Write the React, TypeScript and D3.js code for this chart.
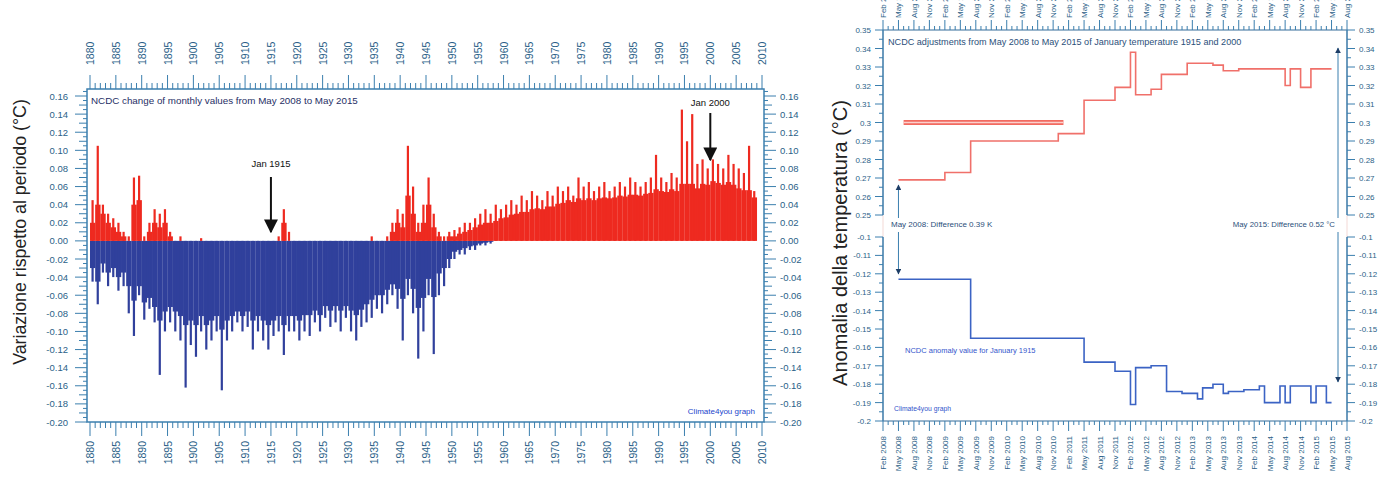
import React from "react";
import * as d3 from "d3";

// ---------- LEFT CHART DATA (monthly change, summarised per year 1880..2008) ----------
const startYear = 1880;
// highest monthly positive change in each year (spikes)
const posPeak = [
  0.045, 0.105, 0.04, 0.03, 0.025, 0.02, 0.01, 0.005, 0.07, 0.072,
  0.005, 0.02, 0.035, 0.03, 0.035, 0.01, 0, 0.005, 0, 0,
  0, 0.003, 0, 0, 0, 0, 0, 0, 0, 0,
  0, 0, 0, 0, 0, 0, 0.005, 0.035, 0.01, 0,
  0, 0, 0, 0, 0, 0, 0, 0, 0, 0,
  0, 0, 0, 0, 0.005, 0, 0, 0.005, 0.02, 0.035,
  0.03, 0.105, 0.06, 0.02, 0.04, 0.07, 0.03, 0.01, 0.005, 0.01,
  0.012, 0.015, 0.02, 0.02, 0.025, 0.03, 0.035, 0.03, 0.04, 0.035,
  0.04, 0.045, 0.04, 0.05, 0.045, 0.055, 0.05, 0.045, 0.055, 0.05,
  0.06, 0.055, 0.06, 0.05, 0.07, 0.06, 0.065, 0.055, 0.06, 0.065,
  0.055, 0.06, 0.065, 0.06, 0.07, 0.065, 0.06, 0.065, 0.07, 0.095,
  0.07, 0.065, 0.075, 0.07, 0.145, 0.11, 0.14, 0.085, 0.09, 0.08,
  0.09, 0.085, 0.08, 0.095, 0.085, 0.08, 0.075, 0.105, 0.055,
];
// typical (bulk) positive change in each year
const posTypical = [
  0.02, 0.04, 0.03, 0.02, 0.015, 0.01, 0.005, 0, 0.04, 0.045,
  0, 0.01, 0.02, 0.015, 0.02, 0.005, 0, 0, 0, 0,
  0, 0, 0, 0, 0, 0, 0, 0, 0, 0,
  0, 0, 0, 0, 0, 0, 0, 0.02, 0, 0,
  0, 0, 0, 0, 0, 0, 0, 0, 0, 0,
  0, 0, 0, 0, 0, 0, 0, 0, 0.01, 0.02,
  0.015, 0.05, 0.03, 0.01, 0.02, 0.04, 0.015, 0.005, 0, 0.005,
  0.005, 0.008, 0.01, 0.012, 0.015, 0.018, 0.02, 0.02, 0.022, 0.025,
  0.026, 0.029, 0.03, 0.032, 0.032, 0.035, 0.036, 0.035, 0.038, 0.038,
  0.041, 0.042, 0.045, 0.043, 0.047, 0.045, 0.047, 0.045, 0.047, 0.048,
  0.047, 0.048, 0.05, 0.049, 0.051, 0.051, 0.05, 0.052, 0.053, 0.057,
  0.055, 0.054, 0.057, 0.055, 0.063, 0.063, 0.063, 0.058, 0.063, 0.062,
  0.066, 0.064, 0.062, 0.065, 0.062, 0.058, 0.056, 0.056, 0.048,
];
// lowest monthly negative change in each year (spikes)
const negPeak = [
  -0.045, -0.07, -0.035, -0.05, -0.04, -0.055, -0.05, -0.08, -0.105, -0.06,
  -0.087, -0.075, -0.09, -0.148, -0.1, -0.09, -0.1, -0.11, -0.162, -0.115,
  -0.128, -0.1, -0.12, -0.11, -0.1, -0.165, -0.11, -0.1, -0.09, -0.1,
  -0.095, -0.12, -0.1, -0.11, -0.12, -0.105, -0.1, -0.126, -0.1, -0.1,
  -0.11, -0.1, -0.105, -0.09, -0.1, -0.085, -0.095, -0.09, -0.1, -0.085,
  -0.1, -0.11, -0.095, -0.09, -0.085, -0.075, -0.08, -0.07, -0.06, -0.075,
  -0.11, -0.06, -0.08, -0.13, -0.1, -0.06, -0.125, -0.06, -0.05, -0.03,
  -0.02, -0.015, -0.015, -0.01, -0.01, -0.005, -0.005, -0.003, 0, 0,
  0, 0, 0, 0, 0, 0, 0, 0, 0, 0,
  0, 0, 0, 0, 0, 0, 0, 0, 0, 0,
  0, 0, 0, 0, 0, 0, 0, 0, 0, 0,
  0, 0, 0, 0, 0, 0, 0, 0, 0, 0,
  0, 0, 0, 0, 0, 0, 0, 0, 0,
];
// typical (bulk) negative change in each year
const negTypical = [
  -0.03, -0.045, -0.025, -0.035, -0.03, -0.04, -0.035, -0.05, -0.066, -0.05,
  -0.068, -0.063, -0.073, -0.088, -0.078, -0.073, -0.078, -0.083, -0.093, -0.088,
  -0.093, -0.083, -0.093, -0.088, -0.083, -0.098, -0.088, -0.083, -0.078, -0.083,
  -0.078, -0.088, -0.083, -0.088, -0.093, -0.088, -0.083, -0.093, -0.083, -0.083,
  -0.088, -0.082, -0.082, -0.077, -0.082, -0.072, -0.077, -0.072, -0.077, -0.072,
  -0.077, -0.082, -0.076, -0.07, -0.065, -0.06, -0.06, -0.054, -0.048, -0.053,
  -0.064, -0.042, -0.053, -0.074, -0.063, -0.042, -0.062, -0.036, -0.03, -0.02,
  -0.012, -0.01, -0.008, -0.006, -0.005, -0.003, -0.002, -0.001, 0, 0,
  0, 0, 0, 0, 0, 0, 0, 0, 0, 0,
  0, 0, 0, 0, 0, 0, 0, 0, 0, 0,
  0, 0, 0, 0, 0, 0, 0, 0, 0, 0,
  0, 0, 0, 0, 0, 0, 0, 0, 0, 0,
  0, 0, 0, 0, 0, 0, 0, 0, 0,
];
const leftYTicks = [0.16, 0.14, 0.12, 0.1, 0.08, 0.06, 0.04, 0.02, 0, -0.02, -0.04, -0.06, -0.08, -0.1, -0.12, -0.14, -0.16, -0.18, -0.2];

// ---------- RIGHT CHART DATA (step series) ----------
const jan2000Dates = ["2008-05", "2009-02", "2009-07", "2010-12", "2011-05", "2011-11", "2012-02", "2012-03", "2012-06", "2012-08", "2013-01", "2013-06", "2013-08", "2013-11", "2014-08", "2014-09", "2014-11", "2015-01", "2015-05"];
const jan2000Values = [0.269, 0.273, 0.29, 0.294, 0.312, 0.319, 0.338, 0.315, 0.318, 0.326, 0.332, 0.331, 0.328, 0.329, 0.32, 0.329, 0.319, 0.329, 0.329];
const jan2000BandDates = ["2008-06", "2011-01"];
const jan2000BandValue = 0.3;

const jan1915Dates = ["2008-05", "2009-07", "2011-05", "2011-11", "2012-02", "2012-03", "2012-06", "2012-09", "2012-12", "2013-03", "2013-04", "2013-06", "2013-08", "2013-09", "2013-12", "2014-03", "2014-04", "2014-07", "2014-08", "2014-09", "2015-01", "2015-02", "2015-04", "2015-05"];
const jan1915Values = [-0.123, -0.155, -0.168, -0.173, -0.191, -0.171, -0.17, -0.184, -0.185, -0.188, -0.182, -0.18, -0.185, -0.184, -0.183, -0.181, -0.19, -0.181, -0.19, -0.181, -0.19, -0.181, -0.19, -0.19];

const upperTicks = [0.35, 0.34, 0.33, 0.32, 0.31, 0.3, 0.29, 0.28, 0.27, 0.26, 0.25];
const lowerTicks = [-0.1, -0.11, -0.12, -0.13, -0.14, -0.15, -0.16, -0.17, -0.18, -0.19, -0.2];
const monthNames = ["Feb", "May", "Aug", "Nov"];
const labelYears = [2008, 2009, 2010, 2011, 2012, 2013, 2014, 2015];

const font = "'Liberation Sans', Arial, sans-serif";
const axisColor = "#3b7fae";
const labelColor = "#2b5f88";
const red = "#ee2a20";
const blue = "#30409c";

function monthIndex(s: string) {
  const [y, m] = s.split("-").map(Number);
  return (y - 2008) * 12 + (m - 2);
}

export default function App() {
  // left chart scales
  const xL = d3.scaleLinear().domain([1880, 2010]).range([90, 762]);
  const yL = d3.scaleLinear().domain([-0.2, 0.16]).range([422, 96]);
  const fL = { x0: 87, x1: 764, y0: 89, y1: 422 };

  // right chart scales
  const xR = d3.scaleLinear().domain([0, 90]).range([883, 1347]);
  const yU = d3.scaleLinear().domain([0.25, 0.35]).range([215, 30]);
  const yD = d3.scaleLinear().domain([-0.2, -0.1]).range([421, 237]);

  const y0 = yL(0);
  const yearW = xL(1881) - xL(1880);
  const spikeW = 2.2;

  const yearTicks = d3.range(1880, 2011, 1);
  const leftMinor = d3.range(-0.2, 0.1651, 0.005).map((v) => Math.round(v * 1000) / 1000);

  const stepLine = (ys: d3.ScaleLinear<number, number>) =>
    d3
      .line<[number, number]>()
      .x((d) => xR(d[0]))
      .y((d) => ys(d[1]))
      .curve(d3.curveStepAfter);

  const upperPts: [number, number][] = jan2000Dates.map((d, i) => [monthIndex(d), jan2000Values[i]]);
  const lowerPts: [number, number][] = jan1915Dates.map((d, i) => [monthIndex(d), jan1915Values[i]]);
  const bandPts: [number, number][] = jan2000BandDates.map((d) => [monthIndex(d), jan2000BandValue]);

  const rightLabels: { m: number; t: string }[] = [];
  labelYears.forEach((yr) =>
    monthNames.forEach((mn, k) => {
      const m = (yr - 2008) * 12 + k * 3;
      if (m <= 90) rightLabels.push({ m, t: `${mn} ${yr}` });
    })
  );
  const monthTicks = d3.range(0, 91, 1);
  const upperMinor = d3.range(0.25, 0.3501, 0.005);
  const lowerMinor = d3.range(-0.2, -0.0999, 0.005);

  const fmt2 = (v: number) => v.toFixed(2);
  const fmtR = (v: number) => String(Number(v.toFixed(2)));

  return (
    <svg
      width={1388}
      height={477}
      style={{ position: "absolute", left: 0, top: 0, background: "#fff" }}
      fontFamily={font}
    >
      <defs>
        <marker id="ahBlack" viewBox="0 0 10 10" refX="9" refY="5" markerWidth="7" markerHeight="7" orient="auto">
          <path d="M0,0 L10,5 L0,10 z" fill="#111" />
        </marker>
        <marker id="ahBlue" viewBox="0 0 10 10" refX="9" refY="5" markerWidth="6" markerHeight="6" orient="auto">
          <path d="M0,0 L10,5 L0,10 z" fill="#1d3d66" />
        </marker>
      </defs>
      <rect x={0} y={0} width={1388} height={477} fill="#fff" />

      {/* ================= LEFT CHART ================= */}
      <g>
        {/* negative: bulk + spikes */}
        {negTypical.map((v, i) =>
          v < 0 ? (
            <rect key={"nt" + i} x={xL(startYear + i)} y={y0} width={yearW + 0.2} height={yL(v) - y0} fill={blue} />
          ) : null
        )}
        {negPeak.map((v, i) =>
          v < 0 ? (
            <rect
              key={"np" + i}
              x={xL(startYear + i + 0.5) - spikeW / 2}
              y={y0}
              width={spikeW}
              height={yL(v) - y0}
              fill={blue}
            />
          ) : null
        )}
        {/* positive: bulk + spikes */}
        {posTypical.map((v, i) =>
          v > 0 ? (
            <rect key={"pt" + i} x={xL(startYear + i)} y={yL(v)} width={yearW + 0.2} height={y0 - yL(v)} fill={red} />
          ) : null
        )}
        {posPeak.map((v, i) =>
          v > 0 ? (
            <rect
              key={"pp" + i}
              x={xL(startYear + i + 0.5) - spikeW / 2}
              y={yL(v)}
              width={spikeW}
              height={y0 - yL(v)}
              fill={red}
            />
          ) : null
        )}

        {/* frame */}
        <rect x={fL.x0} y={fL.y0} width={fL.x1 - fL.x0} height={fL.y1 - fL.y0} fill="none" stroke={axisColor} strokeWidth={1.5} />

        {/* y ticks left & right */}
        {leftMinor.map((v) => {
          const isMid = Math.abs(v * 100 - Math.round(v * 100)) < 1e-6;
          const isMaj = isMid && Math.abs(Math.round(v * 100)) % 2 === 0;
          const len = isMaj ? 12 : isMid ? 8 : 4;
          const y = yL(v);
          return (
            <g key={"ly" + v}>
              <line x1={fL.x0} x2={fL.x0 - len} y1={y} y2={y} stroke={axisColor} strokeWidth={1} />
              <line x1={fL.x1} x2={fL.x1 + len} y1={y} y2={y} stroke={axisColor} strokeWidth={1} />
            </g>
          );
        })}
        {leftYTicks.map((v) => (
          <g key={"lyl" + v} fontSize={9.5} fill={labelColor}>
            <text x={68} y={yL(v) + 3.5} textAnchor="end">{fmt2(v)}</text>
            <text x={780} y={yL(v) + 3.5} textAnchor="start">{fmt2(v)}</text>
          </g>
        ))}

        {/* x ticks top & bottom */}
        {yearTicks.map((yr) => {
          const x = xL(yr);
          const maj = yr % 5 === 0;
          const len = maj ? 14 : 6;
          return (
            <g key={"lx" + yr}>
              <line x1={x} x2={x} y1={fL.y0} y2={fL.y0 - len} stroke={axisColor} strokeWidth={1} />
              <line x1={x} x2={x} y1={fL.y1} y2={fL.y1 + len} stroke={axisColor} strokeWidth={1} />
              {maj ? (
                <>
                  <text transform={`translate(${x + 4},65) rotate(-90)`} textAnchor="start" fontSize={10.5} fill={labelColor}>{yr}</text>
                  <text transform={`translate(${x + 4},441) rotate(-90)`} textAnchor="end" fontSize={10.5} fill={labelColor}>{yr}</text>
                </>
              ) : null}
            </g>
          );
        })}

        {/* texts */}
        <text x={91} y={104} fontSize={9.8} fill="#1f2f66">NCDC change of monthly values from May 2008 to May 2015</text>
        <text x={755} y={414} fontSize={8} fill="#2244cc" textAnchor="end">Climate4you graph</text>

        <text x={xL(1915)} y={167} fontSize={9.5} fill="#111" textAnchor="middle">Jan 1915</text>
        <line x1={xL(1915)} x2={xL(1915)} y1={177} y2={232} stroke="#111" strokeWidth={2} markerEnd="url(#ahBlack)" />
        <text x={xL(2000)} y={106} fontSize={9.5} fill="#111" textAnchor="middle">Jan 2000</text>
        <line x1={xL(2000)} x2={xL(2000)} y1={113} y2={160} stroke="#111" strokeWidth={2} markerEnd="url(#ahBlack)" />

        <text transform={`translate(26,${232}) rotate(-90)`} textAnchor="middle" fontSize={17.8} fill="#222">
          Variazione rispetto al periodo (°C)
        </text>
      </g>

      {/* ================= RIGHT CHART ================= */}
      <g>
        {/* faint frame */}
        <rect x={883} y={30} width={464} height={391} fill="none" stroke="#f3d9d6" strokeWidth={1} />

        {/* series */}
        <path d={stepLine(yU)(bandPts) || ""} fill="none" stroke="#f26a60" strokeWidth={5} />
        <path d={stepLine(yU)(bandPts) || ""} fill="none" stroke="#fbd0cc" strokeWidth={1.5} />
        <path d={stepLine(yU)(upperPts) || ""} fill="none" stroke="#f0706a" strokeWidth={1.6} />
        <path d={stepLine(yD)(lowerPts) || ""} fill="none" stroke="#3b63c4" strokeWidth={1.6} />

        {/* axes lines */}
        <line x1={883} x2={1347} y1={30} y2={30} stroke={axisColor} strokeWidth={1.2} />
        <line x1={883} x2={1347} y1={421} y2={421} stroke={axisColor} strokeWidth={1.2} />
        <line x1={883} x2={883} y1={30} y2={215} stroke={axisColor} strokeWidth={1.5} />
        <line x1={883} x2={883} y1={237} y2={421} stroke={axisColor} strokeWidth={1.5} />
        <line x1={1347} x2={1347} y1={30} y2={215} stroke={axisColor} strokeWidth={1.5} />
        <line x1={1347} x2={1347} y1={237} y2={421} stroke={axisColor} strokeWidth={1.5} />

        {/* y minor ticks */}
        {upperMinor.map((v, i) => (
          <g key={"um" + i}>
            <line x1={883} x2={883 - (i % 2 === 0 ? 8 : 4)} y1={yU(v)} y2={yU(v)} stroke={axisColor} />
            <line x1={1347} x2={1347 + (i % 2 === 0 ? 8 : 4)} y1={yU(v)} y2={yU(v)} stroke={axisColor} />
          </g>
        ))}
        {lowerMinor.map((v, i) => (
          <g key={"lm" + i}>
            <line x1={883} x2={883 - (i % 2 === 0 ? 8 : 4)} y1={yD(v)} y2={yD(v)} stroke={axisColor} />
            <line x1={1347} x2={1347 + (i % 2 === 0 ? 8 : 4)} y1={yD(v)} y2={yD(v)} stroke={axisColor} />
          </g>
        ))}
        {upperTicks.map((v) => (
          <g key={"ut" + v} fontSize={8} fill={labelColor}>
            <text x={871} y={yU(v) + 3} textAnchor="end">{fmtR(v)}</text>
            <text x={1359} y={yU(v) + 3} textAnchor="start">{fmtR(v)}</text>
          </g>
        ))}
        {lowerTicks.map((v) => (
          <g key={"lt" + v} fontSize={8} fill={labelColor}>
            <text x={871} y={yD(v) + 3} textAnchor="end">{fmtR(v)}</text>
            <text x={1359} y={yD(v) + 3} textAnchor="start">{fmtR(v)}</text>
          </g>
        ))}

        {/* x ticks */}
        {monthTicks.map((m) => {
          const x = xR(m);
          const len = m % 3 === 0 ? 10 : 4;
          return (
            <g key={"mt" + m}>
              <line x1={x} x2={x} y1={30} y2={30 - len} stroke={axisColor} />
              <line x1={x} x2={x} y1={421} y2={421 + len} stroke={axisColor} />
            </g>
          );
        })}
        {rightLabels.map((l) => (
          <g key={"rl" + l.m} fontSize={8} fill={labelColor}>
            <text transform={`translate(${xR(l.m) + 3},18) rotate(-90)`} textAnchor="start">{l.t}</text>
            <text transform={`translate(${xR(l.m) + 3},436) rotate(-90)`} textAnchor="end">{l.t}</text>
          </g>
        ))}

        {/* annotations */}
        <text x={888} y={45} fontSize={9.1} fill="#2b4f7a">NCDC adjustments from May 2008 to May 2015 of January temperature 1915 and 2000</text>
        <text x={891} y={227} fontSize={8} fill="#2b4f7a">May 2008: Difference 0.39 K</text>
        <text x={1335} y={227} fontSize={7.8} fill="#2b4f7a" textAnchor="end">May 2015: Difference 0.52 °C</text>
        <text x={905} y={353} fontSize={7.5} fill="#3355cc">NCDC anomaly value for January 1915</text>
        <text x={894} y={411} fontSize={6.8} fill="#3355cc">Climate4you graph</text>

        {/* difference arrows */}
        <line x1={xR(3)} x2={xR(3)} y1={218} y2={185} stroke={axisColor} strokeWidth={1} markerEnd="url(#ahBlue)" />
        <line x1={xR(3)} x2={xR(3)} y1={232} y2={274} stroke={axisColor} strokeWidth={1} markerEnd="url(#ahBlue)" />
        <line x1={1338} x2={1338} y1={218} y2={48} stroke={axisColor} strokeWidth={1} markerEnd="url(#ahBlue)" />
        <line x1={1338} x2={1338} y1={232} y2={382} stroke={axisColor} strokeWidth={1} markerEnd="url(#ahBlue)" />

        <text transform={`translate(847,${243}) rotate(-90)`} textAnchor="middle" fontSize={20} fill="#222">
          Anomalia della temperatura (°C)
        </text>
      </g>
    </svg>
  );
}
